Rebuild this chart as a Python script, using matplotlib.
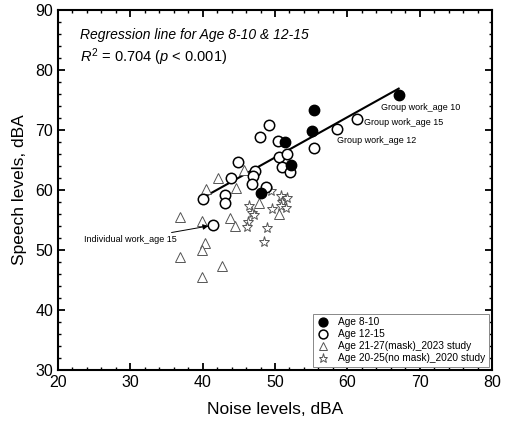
import numpy as np
import matplotlib
matplotlib.use("Agg")
import matplotlib.pyplot as plt
from matplotlib.ticker import MultipleLocator

plt.rcParams["font.family"] = ["Liberation Sans", "DejaVu Sans"]
plt.rcParams["mathtext.fontset"] = "custom"
plt.rcParams["mathtext.rm"] = "Liberation Sans"
plt.rcParams["mathtext.it"] = "Liberation Sans:italic"

# --- data --------------------------------------------------------------------
age_8_10_x = [67.1, 55.4, 55.1, 51.4, 52.2, 48.1]
age_8_10_y = [75.8, 73.4, 69.8, 68.0, 64.2, 59.5]

age_12_15_x = [49.2, 47.9, 50.4, 61.3, 58.6, 55.4, 50.6, 51.7, 51.0, 52.1,
               44.9, 43.9, 47.2, 47.0, 46.8, 48.8, 43.1, 43.1, 40.0, 41.4]
age_12_15_y = [70.8, 68.8, 68.2, 71.8, 70.2, 67.0, 65.5, 66.0, 63.8, 63.0,
               64.7, 62.0, 63.2, 62.3, 61.0, 60.5, 59.2, 57.8, 58.5, 54.2]

mask_x = [36.9, 39.9, 40.3, 39.9, 36.9, 39.9, 42.7, 43.8, 44.5, 42.1,
          40.5, 44.6, 45.7, 47.8, 50.6]
mask_y = [55.5, 54.8, 51.2, 50.0, 48.8, 45.5, 47.3, 55.4, 54.0, 62.0,
          60.2, 60.3, 63.3, 57.8, 56.0]

nomask_x = [46.4, 46.8, 47.1, 46.3, 46.1, 49.6, 50.8, 51.0, 50.8, 51.5,
            48.9, 48.5, 49.5, 51.6]
nomask_y = [57.3, 56.2, 55.9, 54.7, 53.9, 56.9, 59.0, 58.0, 57.3, 57.0,
            53.7, 51.4, 59.8, 58.6]

# regression line end points (Age 8-10 & 12-15)
reg_x = [40.0, 67.1]
reg_y = [58.7, 76.9]

group_labels = ["Group work_age 10", "Group work_age 15", "Group work_age 12"]
group_label_x = [64.7, 62.3, 58.6]
group_label_y = [73.7, 71.2, 68.2]

# --- plot --------------------------------------------------------------------
fig = plt.figure(figsize=(5.06, 4.26), dpi=100)
ax = fig.add_axes([0.1146, 0.1315, 0.8577, 0.845])

ax.plot(reg_x, reg_y, color="black", lw=1.5, zorder=2)

ax.plot(mask_x, mask_y, ls="none", marker="^", ms=7, mfc="white",
        mec="#555555", mew=0.7, label="Age 21-27(mask)_2023 study", zorder=3)
ax.plot(nomask_x, nomask_y, ls="none", marker="*", ms=8, mfc="white",
        mec="#555555", mew=0.7, label="Age 20-25(no mask)_2020 study", zorder=3)
ax.plot(age_12_15_x, age_12_15_y, ls="none", marker="o", ms=7.5, mfc="white",
        mec="black", mew=1.1, label="Age 12-15", zorder=4)
ax.plot(age_8_10_x, age_8_10_y, ls="none", marker="o", ms=7.5, mfc="black",
        mec="black", label="Age 8-10", zorder=5)

for txt, tx, ty in zip(group_labels, group_label_x, group_label_y):
    ax.text(tx, ty, txt, fontsize=6.5, va="center", ha="left")

ax.annotate("Individual work_age 15", xy=(age_12_15_x[-1] - 0.6, age_12_15_y[-1] - 0.2),
            xytext=(23.6, 51.7), fontsize=6.5, va="center",
            arrowprops=dict(arrowstyle="-|>", color="black", lw=0.7,
                            mutation_scale=8, shrinkA=58, shrinkB=0))

ax.text(0.05, 0.93, "Regression line for Age 8-10 & 12-15", transform=ax.transAxes,
        fontsize=10, style="italic", va="center")
ax.text(0.05, 0.868, r"$R^2$ = 0.704 ($p$ < 0.001)", transform=ax.transAxes,
        fontsize=10.5, va="center")

ax.set_xlim(20, 80)
ax.set_ylim(30, 90)
ax.xaxis.set_major_locator(MultipleLocator(10))
ax.yaxis.set_major_locator(MultipleLocator(10))
ax.xaxis.set_minor_locator(MultipleLocator(2))
ax.yaxis.set_minor_locator(MultipleLocator(2))
ax.tick_params(which="both", direction="in", top=True, right=True, labelsize=11.5)
ax.tick_params(which="major", length=5, width=1.3)
ax.tick_params(which="minor", length=2.5, width=1)
for s in ax.spines.values():
    s.set_linewidth(1.5)

ax.set_xlabel("Noise levels, dBA", fontsize=12.5, labelpad=9)
ax.set_ylabel("Speech levels, dBA", fontsize=12.5, labelpad=6)

handles, labels = ax.get_legend_handles_labels()
order = [3, 2, 0, 1]
leg = ax.legend([handles[i] for i in order], [labels[i] for i in order],
                loc="lower right", fontsize=7.3, fancybox=False, framealpha=1,
                edgecolor="#888888", borderaxespad=0.3, handletextpad=0.9,
                labelspacing=0.2, borderpad=0.35, handlelength=1.2,
                markerscale=0.85)
leg.get_frame().set_linewidth(0.7)

fig.savefig("out.png", dpi=100)
